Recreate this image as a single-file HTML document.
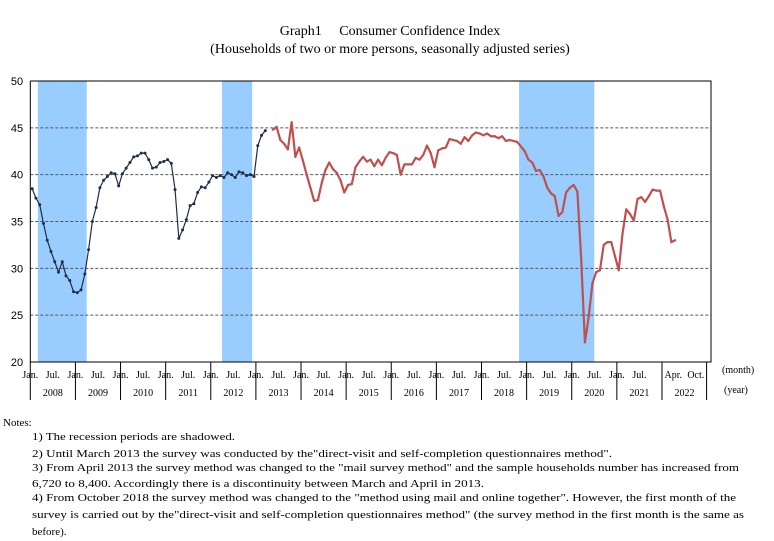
<!DOCTYPE html>
<html><head><meta charset="utf-8"><style>
html,body{margin:0;padding:0;background:#fff;width:774px;height:541px;overflow:hidden}
svg{display:block}
text{font-family:"Liberation Serif",serif;fill:#000}
.ax{font-family:"Liberation Sans",sans-serif;font-size:11px}
.sm{font-size:10px}
</style></head><body>
<svg id="chart" width="774" height="541" viewBox="0 0 774 541" xmlns="http://www.w3.org/2000/svg">
<text x="390" y="35" text-anchor="middle" font-size="14">Graph1　 Consumer Confidence Index</text>
<text x="390" y="53" text-anchor="middle" font-size="14">(Households of two or more persons, seasonally adjusted series)</text>
<g id="plot"></g>
<g font-size="11">
<text x="3" y="426">Notes:</text>
<text x="32" y="440" textLength="203" lengthAdjust="spacingAndGlyphs">1) The recession periods are shadowed.</text>
<text x="32" y="457" textLength="580" lengthAdjust="spacingAndGlyphs">2) Until March 2013 the survey was conducted by the"direct-visit and self-completion questionnaires method".</text>
<text x="32" y="471" textLength="707" lengthAdjust="spacingAndGlyphs">3) From April 2013 the survey method was changed to the "mail survey method" and the sample households number has increased from</text>
<text x="32" y="487" textLength="452" lengthAdjust="spacingAndGlyphs">6,720 to 8,400. Accordingly there is a discontinuity between March and April in 2013.</text>
<text x="32" y="501" textLength="704" lengthAdjust="spacingAndGlyphs">4) From October 2018 the survey method was changed to the "method using mail and online together". However, the first month of the</text>
<text x="32" y="518" textLength="712" lengthAdjust="spacingAndGlyphs">survey is carried out by the"direct-visit and self-completion questionnaires method" (the survey method in the first month is the same as</text>
<text x="32" y="535">before).</text>
</g>
</svg>
<script>
const yTicks=[20,25,30,35,40,45,50];
const years=["2008","2009","2010","2011","2012","2013","2014","2015","2016","2017","2018","2019","2020","2021","2022"];
const recessions=[[2,15],[51,59],[130,150]];
const oldStart=0;
const oldSeries=[38.5,37.5,36.8,34.8,33.0,31.8,30.7,29.6,30.7,29.2,28.7,27.5,27.4,27.7,29.4,32.0,35.0,36.5,38.6,39.4,39.8,40.2,40.1,38.8,40.1,40.7,41.3,41.9,42.0,42.3,42.3,41.6,40.7,40.8,41.3,41.4,41.6,41.2,38.4,33.2,34.1,35.2,36.7,36.9,38.1,38.7,38.6,39.2,39.9,39.7,39.9,39.7,40.2,40.0,39.7,40.3,40.2,39.9,40.0,39.8,43.1,44.2,44.7];
const newStart=64;
const newSeries=[44.8,45.1,43.7,43.3,42.7,45.6,41.9,42.9,41.5,40.0,38.6,37.2,37.3,39.1,40.5,41.3,40.6,40.2,39.4,38.1,38.9,39.0,40.8,41.4,41.9,41.4,41.6,40.9,41.6,41.0,41.8,42.4,42.3,42.1,40.0,41.1,41.1,41.1,41.8,41.6,42.1,43.1,42.3,40.8,42.6,42.8,42.9,43.8,43.7,43.6,43.3,44.0,43.6,44.2,44.5,44.4,44.2,44.4,44.1,44.1,43.9,44.1,43.6,43.7,43.6,43.5,43.0,42.5,
41.6,41.3,40.4,40.5,39.8,38.6,38.0,37.7,35.6,36.0,38.1,38.6,38.9,38.2,31.1,22.1,24.8,28.4,29.6,29.8,32.5,32.8,32.8,31.3,29.8,33.7,36.3,35.8,35.1,37.4,37.6,37.1,37.7,38.4,38.3,38.3,36.6,35.2,32.8,33.0];
const L=30.3,R=711,T=81,B=362,MW=3.76,totalMonths=181;
const NS="http://www.w3.org/2000/svg";
const plot=document.getElementById('plot');
function xEdge(i){return L+i*MW;}
function xC(i){return L+(i+0.5)*MW;}
function yV(v){return B-(v-20)/30*(B-T);}
function mk(tag,attrs,parent){const e=document.createElementNS(NS,tag);for(const k in attrs)e.setAttribute(k,attrs[k]);(parent||plot).appendChild(e);return e;}
recessions.forEach(r=>{
 const e=mk('rect',{x:xEdge(r[0]),y:T,width:xEdge(r[1])-xEdge(r[0]),height:B-T,fill:'#99ccff'});
 
 
});
yTicks.forEach(v=>{
 if(v>20&&v<50){const g=mk('line',{x1:L,x2:R,y1:yV(v),y2:yV(v),stroke:'#555','stroke-width':1,'stroke-dasharray':'3,2'});
 
 }
 const t=mk('text',{x:17,y:yV(v)+4,'text-anchor':'middle',class:'ax'});t.textContent=v;
 
 
});
// axes
const ax=mk('path',{d:`M${L},${T}V${B}H${R}V${T}H${L}`,fill:'none',stroke:'#000','stroke-width':1});


years.forEach((y,k)=>{
 const x0=xEdge(k*12);
 const l=mk('line',{x1:x0,x2:x0,y1:B,y2:400,stroke:'#000','stroke-width':1});
 
 
 const labs= y==="2022"?[["Apr.",3],["Oct.",9]]:[["Jan.",0],["Jul.",6]];
 labs.forEach(a=>{const t=mk('text',{x:xEdge(k*12+a[1]),y:378,'text-anchor':'middle',class:'sm'});t.textContent=a[0];
  
  });
 const yt=mk('text',{x:x0+6*MW,y:396,'text-anchor':'middle',class:'sm'});yt.textContent=y;
 
 
});
const xe=xEdge(15*12);
const ln=mk('line',{x1:xe-0.5,x2:xe-0.5,y1:B,y2:400,stroke:'#000'});


const t1=mk('text',{x:722,y:373,class:'sm'});t1.textContent='(month)';


const t2=mk('text',{x:724,y:393,class:'sm'});t2.textContent='(year)';


function series(arr,start,color,w,name,mr){
 const pts=arr.map((v,i)=>[xC(start+i),yV(v)]);
 const p=mk('polyline',{points:pts.map(p=>p.join(',')).join(' '),fill:'none',stroke:color,'stroke-width':w,'stroke-linejoin':'round'});
 
 
 pts.forEach(q=>{const c=mk('circle',{cx:q[0],cy:q[1],r:mr,fill:color});
  
  });
}
series(oldSeries,oldStart,'#1f2d4a',1.2,'visit-survey-line',1.5);
series(newSeries,newStart,'#c0504d',2.2,'mail-survey-line',1.1);
</script>
</body></html>
